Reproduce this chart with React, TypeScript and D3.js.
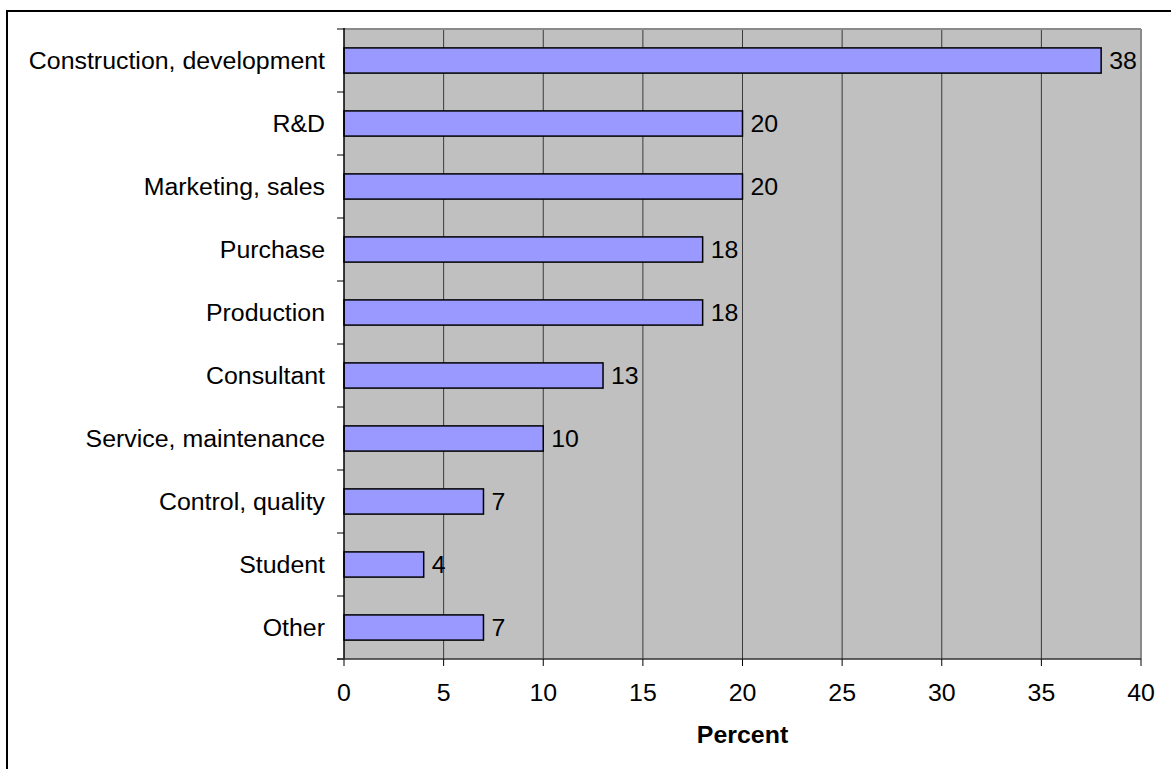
import React from "react";
import * as d3 from "d3";

const categories = [
  "Construction, development",
  "R&D",
  "Marketing, sales",
  "Purchase",
  "Production",
  "Consultant",
  "Service, maintenance",
  "Control, quality",
  "Student",
  "Other",
];
const values = [38, 20, 20, 18, 18, 13, 10, 7, 4, 7];
const xTicks = [0, 5, 10, 15, 20, 25, 30, 35, 40];
const xTitle = "Percent";

const W = 1171;
const H = 769;
const left = 344;
const right = 1141;
const top = 29;
const bottom = 659;
const font = "Arial, 'Liberation Sans', sans-serif";
const fs = 23.5;
const sx = 1.06;

function T(props: {
  x: number;
  y: number;
  anchor?: string;
  bold?: boolean;
  dy?: string;
  children: React.ReactNode;
}) {
  return (
    <text
      transform={`translate(${props.x},${props.y}) scale(${sx},1)`}
      dy={props.dy}
      fontSize={fs}
      fontWeight={props.bold ? "bold" : "normal"}
      textAnchor={props.anchor || "start"}
      fill="#000"
    >
      {props.children}
    </text>
  );
}

export default function App() {
  const x = d3.scaleLinear().domain([0, 40]).range([left, right]);
  const y = d3
    .scaleBand<string>()
    .domain(categories)
    .range([top, bottom])
    .paddingInner(0.6)
    .paddingOuter(0.3);
  const boundaries = d3.range(categories.length + 1).map((i) => top + ((bottom - top) * i) / categories.length);

  return (
    <svg
      width={W}
      height={H}
      style={{ position: "absolute", left: 0, top: 0, background: "#fff" }}
      fontFamily={font}
    >
      <rect x={7} y={11} width={1200} height={800} fill="#fff" stroke="#000" strokeWidth={2} />
      <rect x={left} y={top} width={right - left} height={bottom - top} fill="#C0C0C0" />
      {xTicks.slice(1, -1).map((t) => (
        <line key={t} x1={x(t)} x2={x(t)} y1={top} y2={bottom} stroke="#3a3a3a" strokeWidth={1} />
      ))}
      <line x1={left} x2={right} y1={top} y2={top} stroke="#8a8a8a" strokeWidth={2} />
      <line x1={right} x2={right} y1={top} y2={bottom} stroke="#8a8a8a" strokeWidth={2} />
      {categories.map((c, i) => (
        <g key={c}>
          <rect
            x={x(0)}
            y={y(c)!}
            width={x(values[i]) - x(0)}
            height={y.bandwidth()}
            fill="#9999FF"
            stroke="#000"
            strokeWidth={1.5}
          />
          <T x={x(values[i]) + 8} y={y(c)! + y.bandwidth() / 2} dy="0.35em">
            {values[i]}
          </T>
          <T x={325} y={y(c)! + y.bandwidth() / 2} dy="0.35em" anchor="end">
            {c}
          </T>
        </g>
      ))}
      <line x1={left} x2={left} y1={top - 1} y2={bottom} stroke="#000" strokeWidth={1.5} />
      {boundaries.map((b, i) => (
        <line key={i} x1={left - 7} x2={left} y1={b} y2={b} stroke="#000" strokeWidth={1} />
      ))}
      <line x1={left - 7} x2={right} y1={bottom} y2={bottom} stroke="#333" strokeWidth={1.5} />
      {xTicks.map((t) => (
        <g key={t}>
          <line x1={x(t)} x2={x(t)} y1={bottom} y2={bottom + 7} stroke="#000" strokeWidth={1} />
          <T x={x(t)} y={701} anchor="middle">
            {t}
          </T>
        </g>
      ))}
      <T x={(left + right) / 2} y={743} anchor="middle" bold>
        {xTitle}
      </T>
    </svg>
  );
}
